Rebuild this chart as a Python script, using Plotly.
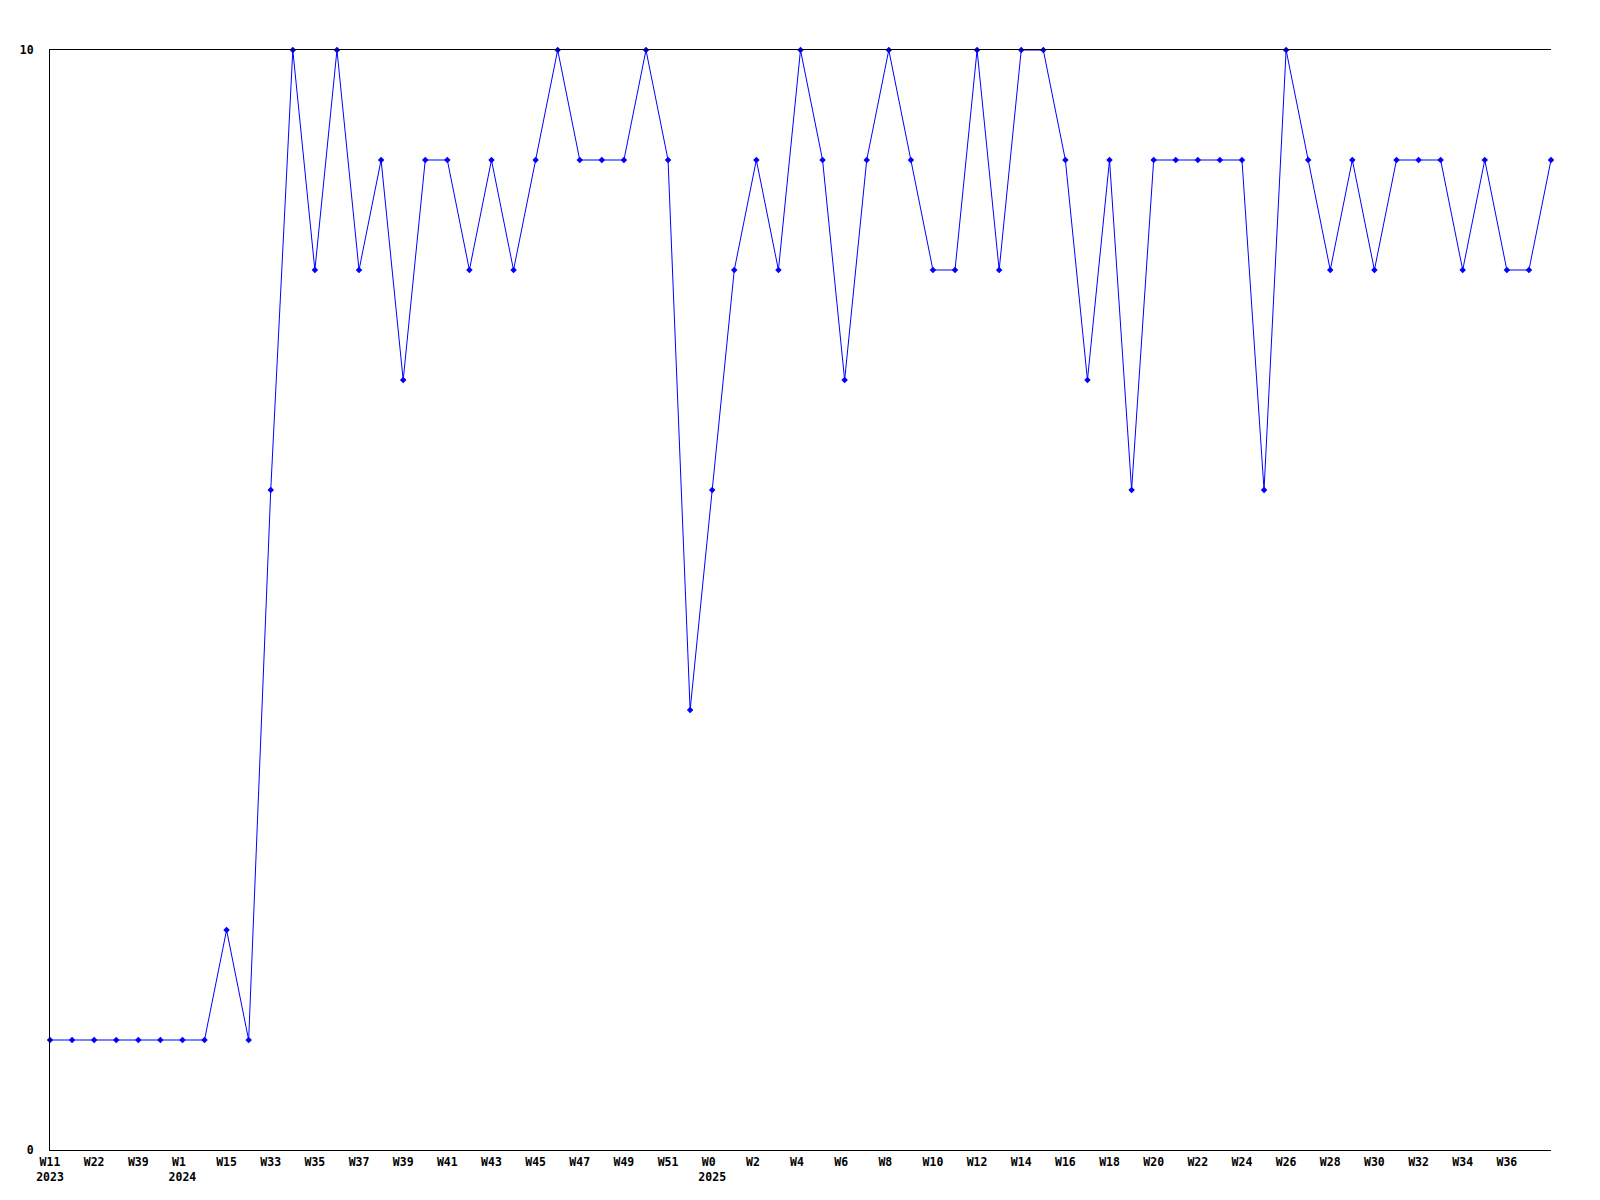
import plotly.graph_objects as go

# Weekly values (one point per week shown on the chart)
values = [1, 1, 1, 1, 1, 1, 1, 1, 2, 1,
          6, 10, 8, 10, 8, 9, 7, 9, 9, 8,
          9, 8, 9, 10, 9, 9, 9, 10, 9, 4,
          6, 8, 9, 8, 10, 9, 7, 9, 10, 9,
          8, 8, 10, 8, 10, 10, 9, 7, 9, 6,
          9, 9, 9, 9, 9, 6, 10, 9, 8, 9,
          8, 9, 9, 9, 8, 9, 8, 8, 9]

# Tick labels shown under every second point (week, optional year)
tick_weeks = ["W11", "W22", "W39", "W1", "W15", "W33", "W35", "W37",
              "W39", "W41", "W43", "W45", "W47", "W49", "W51", "W0", "W2",
              "W4", "W6", "W8", "W10", "W12", "W14", "W16", "W18", "W20", "W22",
              "W24", "W26", "W28", "W30", "W32", "W34", "W36"]
tick_years = ["2023", "", "", "2024", "", "", "", "", "", "", "", "", "", "", "",
              "2025", "", "", "", "", "", "", "", "", "", "", "", "", "", "", "",
              "", "", ""]

y_ticks = [0, 10]

x_index = list(range(len(values)))
tick_pos = x_index[::2][:len(tick_weeks)]

# Labels in the original are left-aligned; pad short ones (monospace font)
tick_text = []
for w, yr in zip(tick_weeks, tick_years):
    w_txt = w + "\u00a0" * (3 - len(w))
    tick_text.append(w_txt + ("<br>" + yr if yr else ""))

font_main = dict(family="DejaVu Sans Mono", size=11.5, color="black", weight="bold")

fig = go.Figure()
fig.add_trace(go.Scatter(
    x=x_index, y=values, mode="lines+markers",
    line=dict(color="#0000FF", width=1),
    marker=dict(color="#0000FF", size=5, symbol="diamond"),
    cliponaxis=False, showlegend=False,
))

fig.update_layout(
    width=1600, height=1200,
    margin=dict(l=42, r=57, t=42, b=58, autoexpand=False),
    paper_bgcolor="white", plot_bgcolor="white",
    font=font_main,
    showlegend=False,
)
fig.update_xaxes(
    range=[0, len(values) - 1], tickvals=tick_pos, ticktext=tick_text,
    showgrid=False, zeroline=False, showline=True, linecolor="black", linewidth=1,
    mirror=True, ticks="", tickfont=font_main, tickangle=0, ticklabelstandoff=1,
)
fig.update_yaxes(
    range=[0, 10], tickvals=y_ticks, ticktext=[str(v) for v in y_ticks],
    showgrid=False, zeroline=False, showline=True, linecolor="black", linewidth=1,
    ticks="", tickfont=font_main, ticklabelstandoff=13,
)

fig.write_html("out.html")
